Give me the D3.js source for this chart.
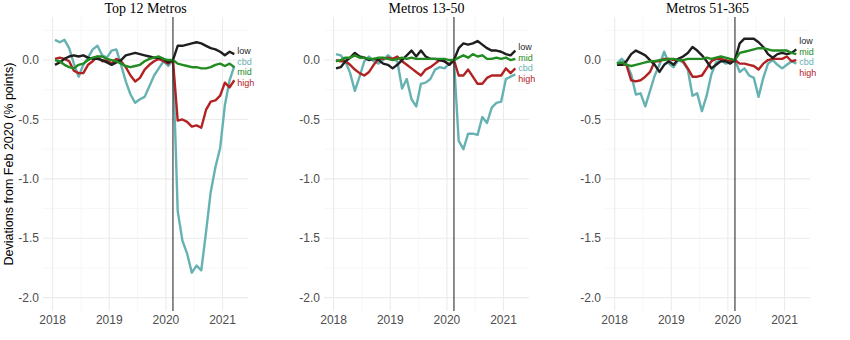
<!DOCTYPE html>
<html>
<head>
<meta charset="utf-8">
<script src="https://cdn.jsdelivr.net/npm/d3@7"></script>
<style>
    body { margin: 0; background: #fff; }
    .tick-label { font-family: "Liberation Sans", Arial, sans-serif; font-size: 12px; fill: #4d4d4d; }
    .panel-title { font-family: "Liberation Serif", "Times New Roman", serif; font-size: 14px; fill: #000; }
    .y-title { font-family: "Liberation Sans", Arial, sans-serif; font-size: 12.5px; fill: #000; }
    .end-label { font-family: "Liberation Sans", Arial, sans-serif; font-size: 9px; }
    .series { fill: none; stroke-width: 2.4px; stroke-linejoin: round; }
</style>
</head>
<body>
<div id="chart"></div>
<script>
    // monthly points, Jan 2018 .. Mar 2021
    const months = d3.timeMonth.range(new Date(2018, 0, 1), new Date(2021, 3, 1));
    const shockMonth = new Date(2020, 1, 1);

    const panelTitles = ["Top 12 Metros", "Metros 13-50", "Metros 51-365"];

    // Top 12 Metros
    const low_top12 = [-0.04, -0.02, 0.01, 0.03, 0.04, 0.03, 0.04, 0.02, 0.01, 0.01, 0.0, -0.02, -0.04, -0.02, 0.0, 0.04, 0.05, 0.06, 0.05, 0.04, 0.03, 0.02, 0.02, 0.01, -0.02, 0,
        0.12, 0.12, 0.13, 0.14, 0.15, 0.14, 0.12, 0.10, 0.09, 0.07, 0.04, 0.07, 0.05];
    const cbd_top12 = [0.17, 0.15, 0.17, 0.10, -0.03, -0.14, -0.04, 0.02, 0.09, 0.12, 0.04, 0.02, 0.08, 0.09, -0.04, -0.18, -0.29, -0.36, -0.33, -0.31, -0.22, -0.13, -0.07, -0.01, -0.05, 0,
        -1.27, -1.52, -1.63, -1.79, -1.73, -1.77, -1.45, -1.11, -0.90, -0.74, -0.38, -0.17, -0.05];
    const mid_top12 = [0.0, -0.01, -0.04, -0.06, -0.07, -0.04, -0.03, 0.0, 0.02, 0.03, 0.03, 0.01, 0.0, -0.01, -0.03, -0.05, -0.06, -0.05, -0.04, -0.01, 0.01, 0.02, 0.03, 0.01, 0.0, 0,
        -0.03, -0.04, -0.05, -0.06, -0.06, -0.07, -0.07, -0.06, -0.04, -0.03, -0.05, -0.03, -0.06];
    const high_top12 = [0.01, 0.02, 0.01, -0.01, -0.09, -0.11, -0.11, -0.04, -0.01, 0.03, -0.01, 0.0, -0.03, 0.01, -0.01, -0.06, -0.13, -0.18, -0.15, -0.08, -0.04, -0.01, 0.01, -0.01, -0.03, 0,
        -0.51, -0.50, -0.52, -0.56, -0.55, -0.57, -0.42, -0.35, -0.34, -0.30, -0.19, -0.23, -0.17];

    // Metros 13-50
    const low_13_50 = [-0.07, -0.06, -0.01, 0.02, 0.06, 0.03, 0.02, 0.0, 0.01, 0.0, -0.03, -0.04, -0.07, -0.04, 0.0, 0.04, 0.08, 0.03, 0.08, 0.03, 0.01, 0.01, 0.0, -0.01, -0.04, 0,
        0.10, 0.14, 0.13, 0.14, 0.16, 0.13, 0.10, 0.08, 0.08, 0.07, 0.05, 0.04, 0.08];
    const cbd_13_50 = [0.05, 0.04, -0.01, -0.11, -0.26, -0.14, -0.01, 0.03, -0.01, -0.03, 0.0, 0.04, 0.01, -0.01, -0.24, -0.16, -0.33, -0.39, -0.20, -0.19, -0.16, -0.08, -0.06, -0.07, -0.03, 0,
        -0.68, -0.75, -0.62, -0.62, -0.63, -0.48, -0.53, -0.40, -0.36, -0.35, -0.16, -0.14, -0.12];
    const mid_13_50 = [-0.01, 0.0, 0.02, 0.02, 0.04, 0.02, 0.02, 0.01, 0.01, 0.02, 0.02, 0.01, 0.0, 0.01, 0.02, 0.01, 0.02, 0.01, 0.01, 0.01, 0.01, 0.01, 0.01, 0.01, 0.0, 0,
        0.02, 0.04, 0.02, 0.05, 0.03, 0.04, 0.01, 0.01, 0.02, 0.01, 0.02, 0.0, 0.01];
    const high_13_50 = [0.0, -0.01, -0.01, -0.04, -0.08, -0.11, -0.13, -0.10, -0.04, 0.01, 0.01, 0.02, 0.01, 0.03, -0.01, -0.04, -0.07, -0.10, -0.13, -0.08, -0.06, -0.03, 0.0, -0.01, -0.04, 0,
        -0.13, -0.13, -0.08, -0.14, -0.20, -0.20, -0.15, -0.13, -0.13, -0.13, -0.07, -0.11, -0.07];

    // Metros 51-365
    const low_51_365 = [-0.04, -0.04, -0.01, 0.05, 0.08, 0.06, 0.04, 0.0, -0.04, -0.10, -0.04, -0.01, -0.04, 0.01, 0.03, 0.06, 0.11, 0.08, 0.04, -0.01, -0.07, -0.04, -0.01, -0.01, -0.03, 0,
        0.14, 0.18, 0.18, 0.18, 0.15, 0.11, 0.05, 0.02, 0.05, 0.06, 0.05, 0.06, 0.09];
    const cbd_51_365 = [-0.03, 0.01, -0.03, -0.12, -0.29, -0.28, -0.39, -0.26, -0.13, -0.04, 0.07, -0.03, -0.06, 0.0, -0.02, -0.08, -0.30, -0.28, -0.43, -0.30, -0.12, -0.02, 0.0, -0.03, -0.02, 0,
        -0.10, -0.07, -0.13, -0.15, -0.31, -0.15, -0.03, 0.0, -0.04, -0.07, -0.04, -0.01, -0.03];
    const mid_51_365 = [-0.03, -0.02, -0.04, -0.05, -0.04, -0.03, -0.02, -0.01, -0.01, 0.0, 0.0, 0.01, 0.01, 0.0, 0.0, 0.01, 0.01, 0.01, 0.01, 0.02, 0.01, 0.02, 0.03, 0.02, 0.01, 0,
        0.06, 0.07, 0.08, 0.09, 0.10, 0.10, 0.09, 0.08, 0.08, 0.08, 0.08, 0.06, 0.05];
    const high_51_365 = [-0.03, -0.04, -0.04, -0.17, -0.18, -0.17, -0.14, -0.10, -0.01, -0.01, 0.01, 0.01, 0.0, 0.01, -0.01, -0.07, -0.14, -0.14, -0.13, -0.07, -0.01, 0.01, 0.01, 0.0, -0.01, 0,
        -0.03, -0.03, -0.04, -0.05, -0.08, -0.03, 0.0, 0.01, 0.01, 0.01, 0.03, -0.01, 0.0];

    const seriesNames = ["cbd", "high", "low", "mid"];
    const seriesColors = { low: "#1f1f1f", cbd: "#66b2b2", mid: "#228b22", high: "#b22222" };
    // top-to-bottom order of the end labels in each panel
    const labelOrder = [
        ["low", "cbd", "mid", "high"],
        ["low", "mid", "cbd", "high"],
        ["low", "mid", "cbd", "high"]
    ];

    const yTicks = [0, -0.5, -1.0, -1.5, -2.0];
    const yMinor = [0.25, -0.25, -0.75, -1.25, -1.75];
    const xTicks = [2018, 2019, 2020, 2021];
    const xMinor = [2018.5, 2019.5, 2020.5];

    const panels = [
        { low: low_top12, cbd: cbd_top12, mid: mid_top12, high: high_top12 },
        { low: low_13_50, cbd: cbd_13_50, mid: mid_13_50, high: high_13_50 },
        { low: low_51_365, cbd: cbd_51_365, mid: mid_51_365, high: high_51_365 }
    ];

    var width = 850, height = 340;
    var panelLeft = [43, 324, 605];
    var panelWidth = 205;
    var plotTop = 17, plotBottom = 311;

    // dates sit in the middle of their month
    function decYear(d) {
        return d.getFullYear() + (d.getMonth() + 0.5) / 12;
    }

    var svg = d3.select("#chart")
        .append("svg")
        .attr("width", width)
        .attr("height", height);

    var y = d3.scaleLinear().domain([-2.1125, 0.3625]).range([plotBottom, plotTop]);

    svg.append("text")
        .attr("class", "y-title")
        .attr("text-anchor", "middle")
        .attr("transform", "translate(13," + ((plotTop + plotBottom) / 2) + ") rotate(-90)")
        .text("Deviations from Feb 2020 (% points)");

    panels.forEach(function (panel, p) {
        var x = d3.scaleLinear()
            .domain([2017.83, 2021.45])
            .range([panelLeft[p], panelLeft[p] + panelWidth]);
        var g = svg.append("g");

        // grid
        g.selectAll("line.ymin").data(yMinor).enter().append("line")
            .attr("x1", x.range()[0]).attr("x2", x.range()[1])
            .attr("y1", d => y(d)).attr("y2", d => y(d))
            .attr("stroke", "#f2f2f2").attr("stroke-width", 0.6);
        g.selectAll("line.xmin").data(xMinor).enter().append("line")
            .attr("x1", d => x(d)).attr("x2", d => x(d))
            .attr("y1", plotTop).attr("y2", plotBottom)
            .attr("stroke", "#f2f2f2").attr("stroke-width", 0.6);
        g.selectAll("line.ymaj").data(yTicks).enter().append("line")
            .attr("x1", x.range()[0]).attr("x2", x.range()[1])
            .attr("y1", d => y(d)).attr("y2", d => y(d))
            .attr("stroke", "#ebebeb").attr("stroke-width", 1.1);
        g.selectAll("line.xmaj").data(xTicks).enter().append("line")
            .attr("x1", d => x(d)).attr("x2", d => x(d))
            .attr("y1", plotTop).attr("y2", plotBottom)
            .attr("stroke", "#ebebeb").attr("stroke-width", 1.1);

        // tick labels
        g.selectAll("text.yt").data(yTicks).enter().append("text")
            .attr("class", "tick-label")
            .attr("x", x.range()[0] - 4)
            .attr("y", d => y(d))
            .attr("dy", "0.35em")
            .attr("text-anchor", "end")
            .text(d => d3.format(".1f")(d).replace("−", "-"));
        g.selectAll("text.xt").data(xTicks).enter().append("text")
            .attr("class", "tick-label")
            .attr("x", d => x(d))
            .attr("y", plotBottom + 12.5)
            .attr("text-anchor", "middle")
            .text(d => d);

        // title
        g.append("text")
            .attr("class", "panel-title")
            .attr("x", (x.range()[0] + x.range()[1]) / 2)
            .attr("y", 12.5)
            .attr("text-anchor", "middle")
            .text(panelTitles[p]);

        // series
        var line = d3.line()
            .x(function (d, i) { return x(decYear(months[i])); })
            .y(function (d) { return y(d); });
        seriesNames.forEach(function (name) {
            g.append("path")
                .attr("class", "series")
                .attr("stroke", seriesColors[name])
                .attr("d", line(panel[name]));
        });

        // Feb 2020 marker
        var xs = x(decYear(shockMonth));
        g.append("line")
            .attr("x1", xs).attr("x2", xs)
            .attr("y1", plotTop).attr("y2", plotBottom)
            .attr("stroke", "#1a1a1a").attr("stroke-width", 1);

        // end labels, pushed apart so they do not overlap
        var order = labelOrder[p];
        var last = months.length - 1;
        var pos = order.map(name => y(panel[name][last]));
        var gap = 10.5;
        for (var it = 0; it < 100; it++) {
            for (var k = 0; k < pos.length - 1; k++) {
                if (pos[k + 1] - pos[k] < gap) {
                    var mid = (pos[k] + pos[k + 1]) / 2;
                    pos[k] = mid - gap / 2;
                    pos[k + 1] = mid + gap / 2;
                }
            }
        }
        var lx = x(decYear(months[last])) + 3;
        order.forEach(function (name, k) {
            g.append("text")
                .attr("class", "end-label")
                .attr("x", lx)
                .attr("y", pos[k])
                .attr("dy", "0.35em")
                .attr("fill", seriesColors[name])
                .text(name);
        });
    });
</script>
</body>
</html>
